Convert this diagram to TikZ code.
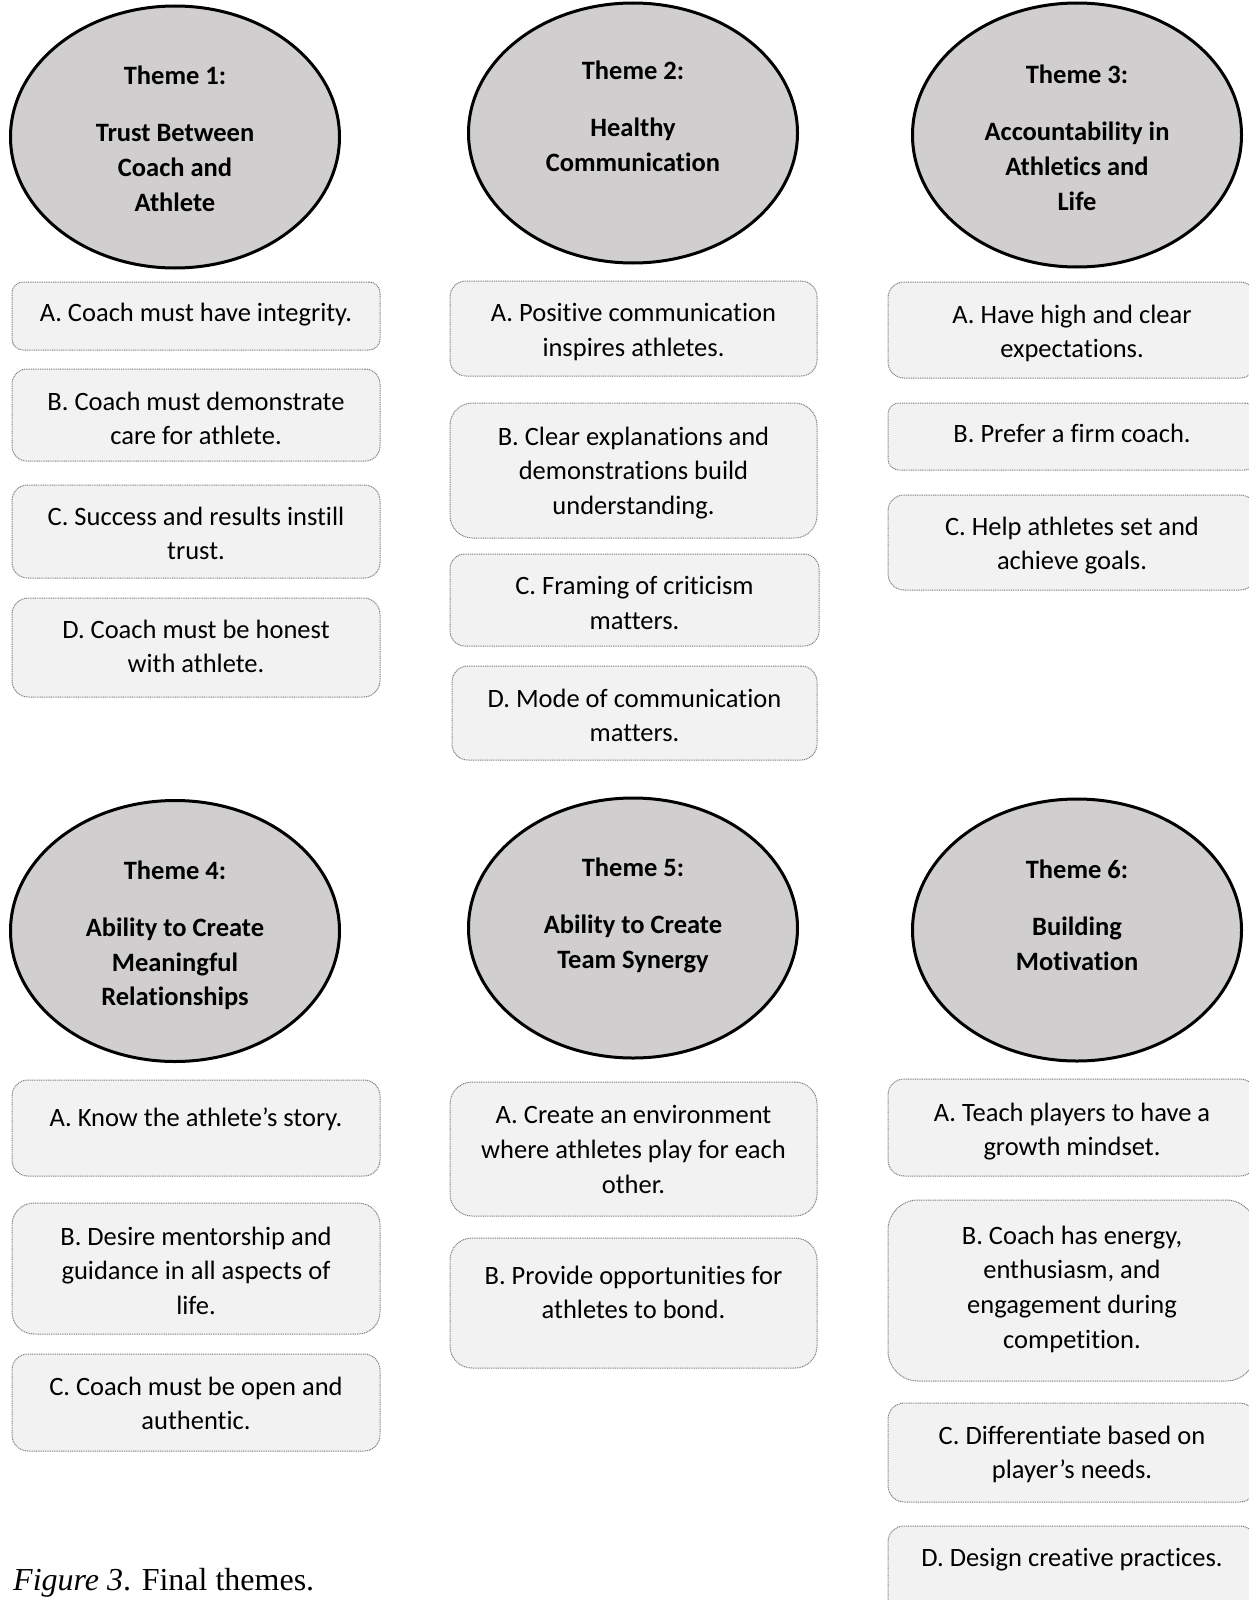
\documentclass[tikz,border=0pt]{standalone}
\usepackage{fontspec}
\setmainfont{Carlito}[Ligatures=NoCommon]
\newfontfamily\capfont{Liberation Serif}
\usetikzlibrary{shapes.geometric}
\definecolor{ellfill}{HTML}{D0CECE}
\definecolor{boxfill}{HTML}{F2F2F2}
\definecolor{boxline}{HTML}{7F7F7F}
\tikzset{
  themeell/.style={ellipse, draw=black, line width=3pt, fill=ellfill, inner sep=0pt},
  themetext/.style={anchor=north, inner sep=0pt, align=center, font=\fontsize{26.5}{34.7}\selectfont\bfseries, execute at begin node=\strut},
  subb/.style={rectangle, draw=boxline, fill=boxfill, line width=1pt, dash pattern=on 1pt off 0.8pt, inner sep=0pt},
  subtext/.style={anchor=north, inner sep=0pt, align=center, font=\fontsize{26.5}{34.7}\selectfont, execute at begin node=\strut},
}
% name, x1, y1, x2, y2, corner radius, text offset, text
\newcommand\subbox[8]{%
  \node[subb, minimum width={#4pt-#2pt}, minimum height={#5pt-#3pt}, rounded corners=#6pt] (#1) at ({(#2+#4)/2},{(#3+#5)/2}) {};
  \node[subtext] (#1t) at ([yshift=-#7pt]#1.north) {#8};
}
\newcommand\themeell[7]{% name, cx, cy, w, h, textnorth, text
  \node[themeell, minimum width=#4pt, minimum height=#5pt] (#1) at (#2,#3) {};
  \node[themetext] (#1t) at (#1.center |- 0,#6) {#7};
}
\begin{document}
\begin{tikzpicture}[x=1pt,y=-1pt]
\useasboundingbox (0,0) rectangle (1249,1600);
\clip (0,0) rectangle (1249,1600);
% themes
\themeell{e1}{175}{137}{329}{262}{66}{Theme 1:\\[22.5pt]Trust Between\\Coach and\\Athlete}
\themeell{e2}{633}{133}{329}{260}{61}{Theme 2:\\[22.5pt]Healthy\\Communication}
\themeell{e3}{1077}{135}{329}{264}{65}{Theme 3:\\[22.5pt]Accountability in\\Athletics and\\Life}
\themeell{e4}{175}{931}{329}{261}{860.5}{Theme 4:\\[22.5pt]Ability to Create\\Meaningful\\Relationships}
\themeell{e5}{633}{928}{329}{260}{857.5}{Theme 5:\\[22.5pt]Ability to Create\\Team Synergy}
\themeell{e6}{1077}{930}{329}{262}{859.5}{Theme 6:\\[22.5pt]Building\\Motivation}
% column 1, row 1
\subbox{a1}{12}{282}{380}{350}{11}{16}{A. Coach must have integrity.}
\subbox{b1}{12}{369}{380}{461}{15}{23}{B. Coach must demonstrate\\care for athlete.}
\subbox{c1}{12}{485}{380}{578}{15.5}{22}{C. Success and results instill\\trust.}
\subbox{d1}{12}{598}{380}{697}{16.5}{22}{D. Coach must be honest\\with athlete.}
% column 2, row 1
\subbox{a2}{450}{281}{817}{376}{16}{23}{A. Positive communication\\inspires athletes.}
\subbox{b2}{450}{403}{817}{538}{22.5}{24}{B. Clear explanations and\\demonstrations build\\understanding.}
\subbox{c2}{450}{554}{819}{646}{15}{23}{C. Framing of criticism\\matters.}
\subbox{d2}{452}{666}{817}{760}{16}{23}{D. Mode of communication\\matters.}
% column 3, row 1
\subbox{a3}{888}{282}{1256}{378}{16}{23}{A. Have high and clear\\expectations.}
\subbox{b3}{888}{403}{1256}{470}{11}{16}{B. Prefer a firm coach.}
\subbox{c3}{888}{495}{1256}{590}{16}{22}{C. Help athletes set and\\achieve goals.}
% column 1, row 2
\subbox{a4}{12}{1080}{380}{1176}{16}{22}{A. Know the athlete’s story.}
\subbox{b4}{12}{1203}{380}{1334}{22}{24}{B. Desire mentorship and\\guidance in all aspects of\\life.}
\subbox{c4}{12}{1354}{380}{1451}{16}{23}{C. Coach must be open and\\authentic.}
% column 2, row 2
\subbox{a5}{450}{1082}{817}{1216}{22}{24}{A. Create an environment\\where athletes play for each\\other.}
\subbox{b5}{450}{1238}{817}{1368}{22}{28}{B. Provide opportunities for\\athletes to bond.}
% column 3, row 2
\subbox{a6}{888}{1079}{1256}{1176}{16}{24}{A. Teach players to have a\\growth mindset.}
\subbox{b6}{888}{1200}{1256}{1381}{30}{26}{B. Coach has energy,\\enthusiasm, and\\engagement during\\competition.}
\subbox{c6}{888}{1403}{1256}{1502}{16.5}{23}{C. Differentiate based on\\player’s needs.}
\subbox{d6}{888}{1526}{1256}{1622}{16}{16}{D. Design creative practices.}
% caption
\node[anchor=base west, inner sep=0pt, font=\capfont\fontsize{32}{38}\selectfont] (cap) at (13,1590) {\textit{Figure 3}. Final themes.};
\end{tikzpicture}
\end{document}
